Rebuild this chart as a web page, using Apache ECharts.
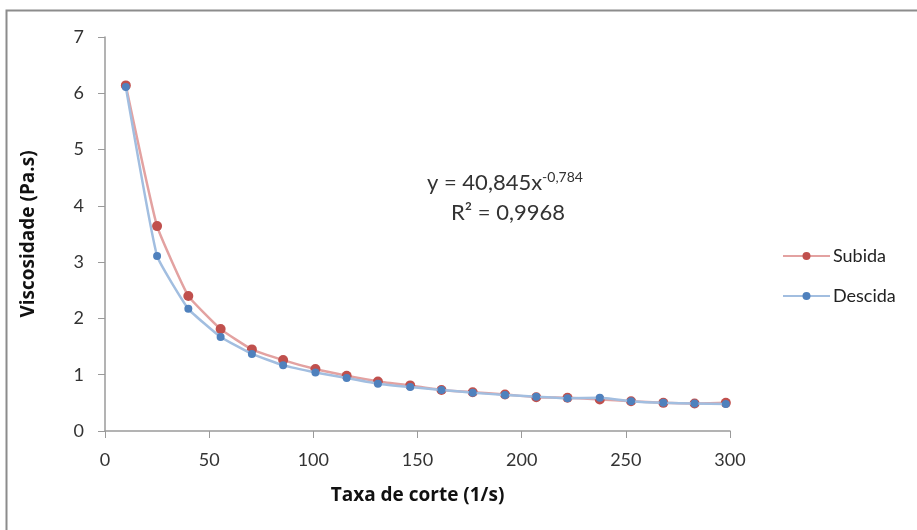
<!DOCTYPE html>
<html>
<head>
<meta charset="utf-8">
<script src="https://cdn.jsdelivr.net/npm/echarts@6/dist/echarts.min.js"></script>
<style>
  html, body { margin: 0; padding: 0; background: #fff; }
  #chart { width: 917px; height: 530px; }
</style>
</head>
<body>
<div id="chart"></div>
<script>
// taxa de corte (1/s)
const shearRate = [10, 25, 40, 55.5, 70.5, 85.5, 101, 116, 131, 146.5, 161.5, 176.5, 192, 207, 222, 237.5, 252.5, 268, 283, 298];
// viscosidade (Pa.s)
const subida  = [6.14, 3.64, 2.40, 1.81, 1.45, 1.26, 1.10, 0.98, 0.88, 0.81, 0.73, 0.69, 0.65, 0.60, 0.59, 0.56, 0.53, 0.50, 0.49, 0.50];
const descida = [6.11, 3.11, 2.17, 1.67, 1.37, 1.17, 1.04, 0.94, 0.84, 0.78, 0.73, 0.68, 0.64, 0.61, 0.58, 0.59, 0.53, 0.50, 0.49, 0.48];

const font = 'Lato, "Open Sans", sans-serif';
const boldFont = '"Open Sans", Lato, sans-serif';
const pairs = (ys) => shearRate.map((x, i) => [x, ys[i]]);

const chart = echarts.init(document.getElementById('chart'));
chart.setOption({
    animation: false,
    textStyle: { fontFamily: font },
    grid: { left: 105, right: 187, top: 37, bottom: 99 },
    legend: {
        orient: 'vertical',
        left: 777, top: 242,
        itemWidth: 47, itemHeight: 10, itemGap: 22,
        textStyle: { fontSize: 18, color: '#222', fontFamily: font, padding: [0, 0, 0, -2] },
        data: ['Subida', 'Descida']
    },
    xAxis: {
        type: 'value', min: 0, max: 300, interval: 50,
        name: 'Taxa de corte (1/s)', nameLocation: 'middle', nameGap: 55,
        nameTextStyle: { fontSize: 19, fontWeight: 'bold', color: '#111', fontFamily: boldFont },
        axisLine: { lineStyle: { color: '#9a9a9a', width: 1.5 } },
        axisTick: { show: true, length: 7, lineStyle: { color: '#9a9a9a' } },
        axisLabel: { fontSize: 18, color: '#333', margin: 20 },
        splitLine: { show: false }
    },
    yAxis: {
        type: 'value', min: 0, max: 7, interval: 1,
        name: 'Viscosidade (Pa.s)', nameLocation: 'middle', nameGap: 67, nameRotate: 90,
        nameTextStyle: { fontSize: 19, fontWeight: 'bold', color: '#111', fontFamily: boldFont },
        axisLine: { show: true, lineStyle: { color: '#9a9a9a', width: 1.5 } },
        axisTick: { show: true, length: 7, lineStyle: { color: '#9a9a9a' } },
        axisLabel: { fontSize: 18, color: '#333', margin: 21 },
        splitLine: { show: false }
    },
    graphic: [
        {
            type: 'rect', silent: true, z: -1,
            shape: { x: 6.5, y: 10.5, width: 940, height: 560 },
            style: { fill: 'none', stroke: '#8c8c8c', lineWidth: 2 }
        },
        {
            type: 'text', left: 427, top: 170,
            style: {
                text: '{b|y = 40,845x}{s|-0,784}',
                rich: {
                    b: { fontSize: 22, fill: '#333', fontFamily: font },
                    s: { fontSize: 14, fill: '#333', fontFamily: font, verticalAlign: 'top', padding: [0, 0, 11, 0] }
                }
            }
        },
        {
            type: 'text', left: 451, top: 202,
            style: { text: 'R² = 0,9968', fontSize: 22, fill: '#333', fontFamily: font }
        }
    ],
    series: [
        {
            name: 'Subida', type: 'line', data: pairs(subida),
            smooth: 0.12, symbol: 'circle', symbolSize: 10,
            itemStyle: { color: '#C0504D' },
            lineStyle: { color: '#E3A2A1', width: 2.5 },
            z: 2
        },
        {
            name: 'Descida', type: 'line', data: pairs(descida),
            smooth: 0.12, symbol: 'circle', symbolSize: 8,
            itemStyle: { color: '#4F81BD' },
            lineStyle: { color: '#A2BEE0', width: 2.5 },
            z: 3
        }
    ]
});
</script>
</body>
</html>
